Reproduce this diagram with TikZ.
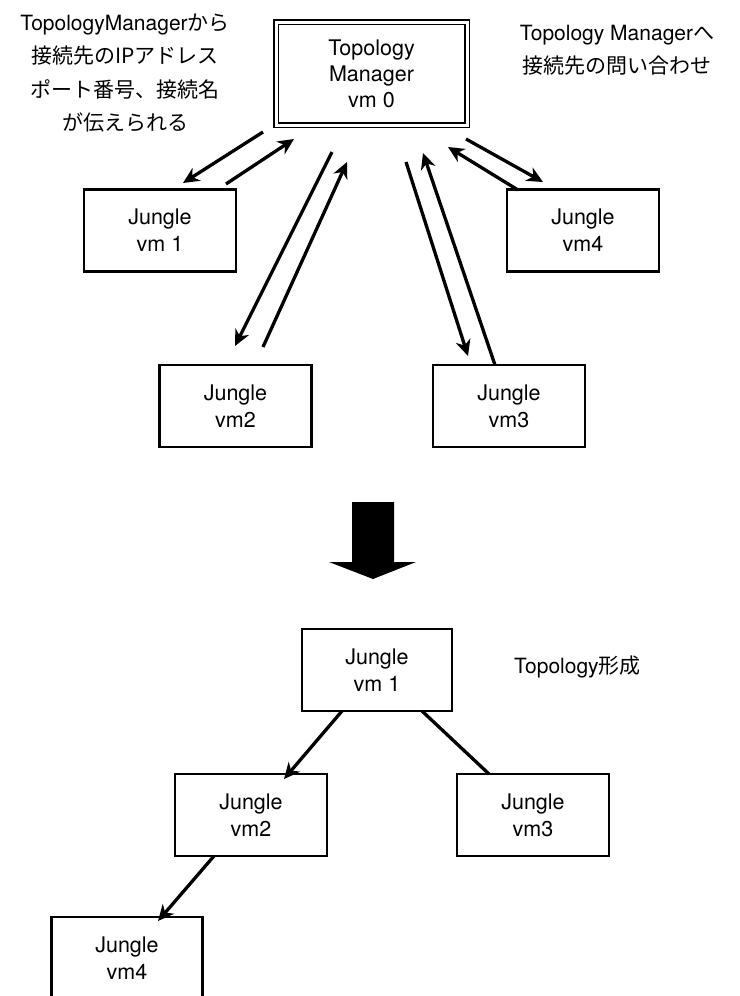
\documentclass[tikz,border=0pt]{standalone}
\usepackage{fontspec}
\setmainfont{TeX Gyre Heros}
\newfontfamily\jp{Noto Sans CJK JP}
\usetikzlibrary{arrows.meta,calc}
\begin{document}
\begin{tikzpicture}[x=1pt,y=-1pt,
  box/.style={draw,line width=2.5pt,minimum width=152pt,minimum height=82pt,inner sep=0pt,align=center,font=\fontsize{21.5}{27}\selectfont},
  tmbox/.style={draw,double,double distance=3pt,line width=1.2pt,minimum width=191pt,minimum height=103pt,inner sep=0pt,align=center,font=\fontsize{21.5}{26}\selectfont},
  conn/.style={line width=3.3pt},
  arr/.style={conn,-{Stealth[length=16pt,width=15pt,inset=5pt]}},
  lbl/.style={align=center,inner sep=0pt,font=\fontsize{21}{33.5}\selectfont}]
\useasboundingbox (0,0) rectangle (739,996);
\clip (0,0) rectangle (739,996);
% top section
\node[tmbox] (tm) at (371.5,73.5) {Topology\\Manager\\vm 0};
\node[box] (a1) at (160,230.5) {Jungle\\vm 1};
\node[box] (a4) at (583,230.5) {Jungle\\vm4};
\node[box] (a2) at (235.5,406) {Jungle\\vm2};
\node[box] (a3) at (509,406) {Jungle\\vm3};
\node[lbl] (tl) at (125,73) {TopologyManager{\jp から}\\{\jp 接続先のIPアドレス}\\{\jp ポート番号、接続名}\\{\jp が伝えられる}};
\node[lbl] (tr) at (617,50) {Topology Manager{\jp へ}\\{\jp 接続先の問い合わせ}};
% arrow ends
\coordinate (pA1) at (263,132); \coordinate (pA2) at (183,183);
\coordinate (pB1) at (226,184); \coordinate (pB2) at (294,139);
\coordinate (pC1) at (332,152); \coordinate (pC2) at (235,346);
\coordinate (pD1) at (263,347); \coordinate (pD2) at (347,162);
\coordinate (pE1) at (406,162); \coordinate (pE2) at (468,356);
\coordinate (pF1) at (495,365); \coordinate (pF2) at (423,153);
\coordinate (pG1) at (518,190); \coordinate (pG2) at (448,147);
\coordinate (pH1) at (466,139); \coordinate (pH2) at (543,182);
\draw[arr] (pA1) -- (pA2);
\draw[arr] (pB1) -- (pB2);
\draw[arr] (pC1) -- (pC2);
\draw[arr] (pD1) -- (pD2);
\draw[arr] (pE1) -- (pE2);
\draw[arr] (pF1) -- (pF2);
\draw[arr] (pG1) -- (pG2);
\draw[arr] (pH1) -- (pH2);
% big arrow
\fill (352,502) -- (394,502) -- (394,562) -- (416,562) -- (373,579) -- (329,562) -- (352,562) -- cycle;
% bottom section
\node[box,minimum width=150pt] (b1) at (377,670) {Jungle\\vm 1};
\node[box] (b2) at (251,815) {Jungle\\vm2};
\node[box] (b3) at (533,815) {Jungle\\vm3};
\node[box,minimum width=151pt] (b4) at (127,958) {Jungle\\vm4};
\node[lbl,anchor=west] (tf) at (514,667) {Topology{\jp 形成}};
\coordinate (q1) at (342,711); \coordinate (q2) at (284,779);
\coordinate (q3) at (422,711); \coordinate (q4) at (489,774);
\coordinate (q5) at (214,856); \coordinate (q6) at (158,921);
\draw[arr] (q1) -- (q2);
\draw[conn] (q3) -- (q4);
\draw[arr] (q5) -- (q6);
\end{tikzpicture}
\end{document}
